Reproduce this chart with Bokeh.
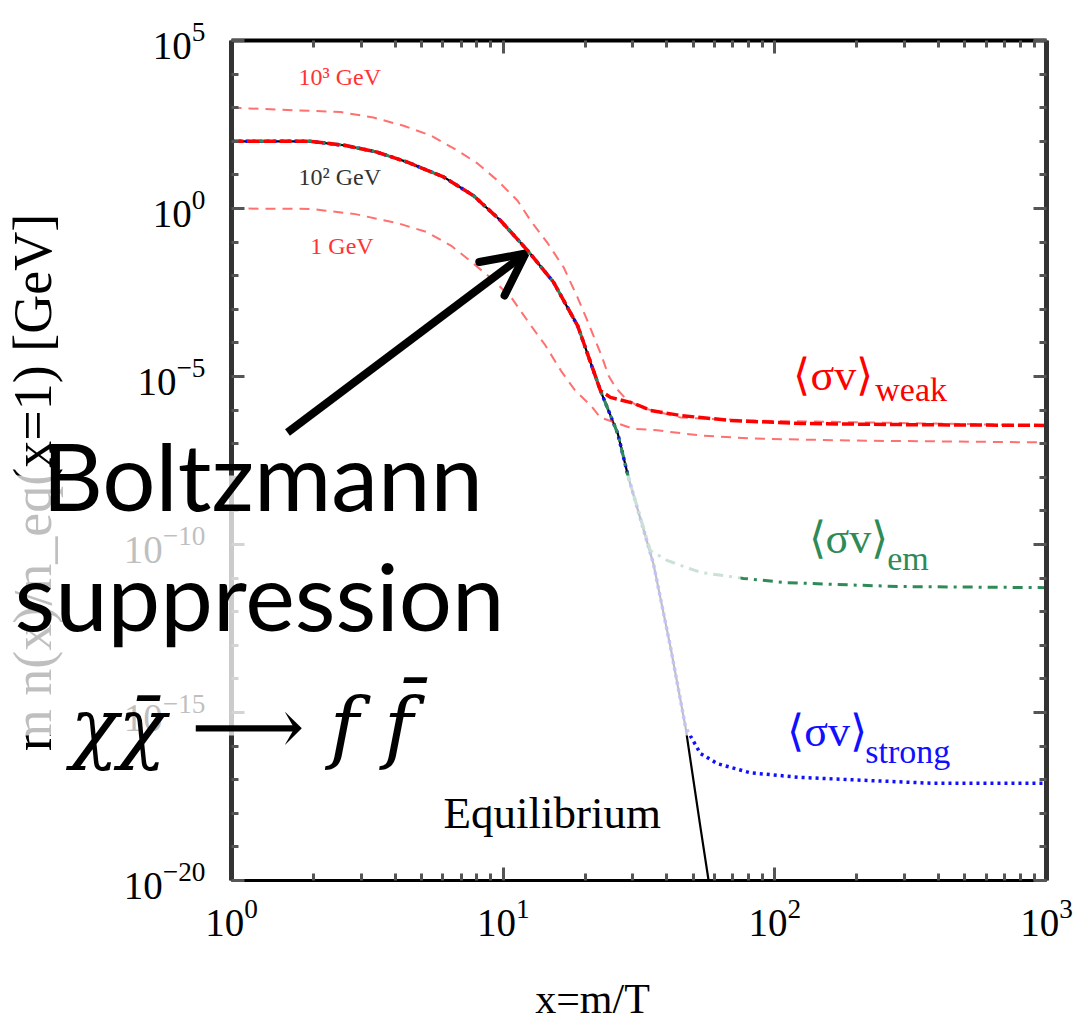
import math
from bokeh.plotting import figure
from bokeh.models import (Range1d, LogAxis, FixedTicker, LogTickFormatter, CustomJSTickFormatter,
                          Label, BoxAnnotation, Arrow, OpenHead, ColumnDataSource)
from bokeh.core.properties import value
from bokeh.embed import file_html
from bokeh.resources import INLINE

# ---------------- data ----------------
x_major = [1, 10, 100, 1000]
x_minor = [2, 3, 4, 5, 6, 7, 8, 9, 20, 30, 40, 50, 60, 70, 80, 90,
           200, 300, 400, 500, 600, 700, 800, 900]
y_major = [1e-20, 1e-15, 1e-10, 1e-5, 1e0, 1e5]
y_minor = [1e-19, 1e-18, 1e-17, 1e-16, 1e-14, 1e-13, 1e-12, 1e-11, 1e-9, 1e-8, 1e-7,
           1e-6, 1e-4, 1e-3, 1e-2, 1e-1, 1e1, 1e2, 1e3, 1e4]
x_lim = (1, 1000)
y_lim = (1e-20, 1e5)

# equilibrium curve (m = 100 GeV)
eq_x = [1.0, 1.95, 2.63, 3.42, 4.44, 6.03, 7.78, 9.77, 12.3, 15.3, 18.8, 22.8,
        26.4, 28.9, 35.7, 41.3, 46.9, 53.2, 57.0]
eq_y = [1.0e2, 1.0e2, 7.5e1, 4.8e1, 2.4e1, 8.7, 2.4, 4.4e-1, 5.6e-2, 6.5e-3, 3.2e-4, 3.8e-6,
        2.0e-7, 9.9e-9, 2.7e-11, 8.6e-14, 3.6e-16, 3.8e-19, 1.0e-20]

# <sigma v>_weak, m = 100 GeV (freeze-out tail after leaving equilibrium at x ~ 23)
weak_tail_x = [24.8, 30.2, 34.8, 45.0, 68.7, 124, 290, 1000]
weak_tail_y = [2.4e-6, 1.6e-6, 9.8e-7, 6.9e-7, 4.9e-7, 4.0e-7, 3.7e-7, 3.5e-7]

# <sigma v>_weak, m = 1000 GeV
hi_x = [1.0, 2.52, 3.33, 4.30, 5.40, 6.79, 8.04, 9.53, 11.3, 12.6, 14.6, 16.7, 18.8,
        20.4, 23.0, 24.4, 25.9, 28.2, 32.0, 45.0, 81.3, 1000]
hi_y = [1.0e3, 7.4e2, 5.1e2, 2.9e2, 1.5e2, 5.3e1, 2.2e1, 6.8, 1.7, 4.4e-1, 9.1e-2, 1.75e-2,
        2.2e-3, 4.6e-4, 4.2e-5, 1.07e-5, 4.7e-6, 2.2e-6, 1.2e-6, 6.0e-7, 4.9e-7, 3.5e-7]

# <sigma v>_weak, m = 1 GeV
lo_x = [1.0, 2.0, 2.22, 2.86, 3.44, 4.07, 5.25, 6.49, 7.79, 9.23, 10.8, 12.4, 14.3, 16.3,
        18.4, 21.0, 22.8, 30.1, 36.9, 53.3, 81.3, 190, 1000]
lo_y = [1.0, 0.97, 0.86, 0.68, 0.49, 0.37, 0.197, 0.074, 2.26e-2, 7.2e-3, 2.05e-3, 4.1e-4,
        8.4e-5, 1.5e-5, 3.8e-6, 1.37e-6, 6.0e-7, 2.8e-7, 2.5e-7, 1.75e-7, 1.43e-7, 1.24e-7,
        1.09e-7]

# <sigma v>_em (leaves equilibrium at x ~ 35)
em_tail_x = [34.8, 40.3, 53.2, 76.6, 108, 164, 290, 1000]
em_tail_y = [6.6e-11, 3.3e-11, 1.48e-11, 9.8e-12, 7.4e-12, 6.5e-12, 5.6e-12, 5.2e-12]

# <sigma v>_strong (leaves equilibrium at x ~ 47)
strong_tail_x = [53.2, 61.5, 81.3, 124, 219, 384, 1000]
strong_tail_y = [6.0e-17, 3.0e-17, 1.6e-17, 1.17e-17, 9.5e-18, 7.8e-18, 7.8e-18]

# number of equilibrium points each curve shares before freezing out
n_weak, n_em, n_strong = 12, 14, 17

weak_x = eq_x[:n_weak] + weak_tail_x
weak_y = eq_y[:n_weak] + weak_tail_y
em_x = eq_x[:n_em] + em_tail_x
em_y = eq_y[:n_em] + em_tail_y
strong_x = eq_x[:n_strong] + strong_tail_x
strong_y = eq_y[:n_strong] + strong_tail_y

# ---------------- figure ----------------
# The frame fills the whole canvas so that the big overlay texts may cross the
# axes, as in the reference; all four axes are pinned with fixed_location and
# limited with bounds to the 1..1000 x 1e-20..1e5 box.
SERIF = "Liberation Serif"
W, H = 1078, 1025
view_x = (0.1412, 1310)
view_y = (4.84e-25, 1.55e6)

p = figure(width=W, height=H, x_axis_type="log", y_axis_type="log",
           x_range=Range1d(*view_x), y_range=Range1d(*view_y),
           output_backend="svg", toolbar_location=None,
           min_border_left=0, min_border_right=0, min_border_top=0, min_border_bottom=0)
p.background_fill_color = "white"
p.border_fill_color = "white"
p.grid.visible = False
p.outline_line_color = None


def style_axis(ax, ticks, minor, labels=True):
    ax.ticker = FixedTicker(ticks=ticks, minor_ticks=minor)
    ax.major_tick_in = 13
    ax.major_tick_out = 0
    ax.minor_tick_in = 7
    ax.minor_tick_out = 0
    ax.major_tick_line_color = "#555555"
    ax.minor_tick_line_color = "#555555"
    ax.major_tick_line_width = 3
    ax.minor_tick_line_width = 3
    if labels:
        ax.formatter = LogTickFormatter()
        ax.major_label_text_font = SERIF
        ax.major_label_text_font_size = "39px"
        ax.major_label_text_color = "black"
    else:
        ax.formatter = CustomJSTickFormatter(code="return ''")
        ax.major_label_text_font_size = "1px"
        ax.major_label_standoff = 0


xa = p.xaxis[0]
style_axis(xa, x_major, x_minor)
xa.fixed_location = y_lim[0]
xa.bounds = x_lim
xa.axis_line_color = "black"
xa.axis_line_width = 3
xa.major_label_standoff = 18

ya = p.yaxis[0]
style_axis(ya, y_major, y_minor)
ya.fixed_location = x_lim[0]
ya.bounds = y_lim
ya.axis_line_color = "#333333"
ya.axis_line_width = 5
ya.major_label_standoff = 26

top_ax = LogAxis(bounds=x_lim, fixed_location=y_lim[1])
style_axis(top_ax, x_major, x_minor, labels=False)
top_ax.axis_line_color = "black"
top_ax.axis_line_width = 4
p.add_layout(top_ax, "above")

right_ax = LogAxis(bounds=y_lim, fixed_location=x_lim[1])
style_axis(right_ax, y_major, y_minor, labels=False)
right_ax.axis_line_color = "#333333"
right_ax.axis_line_width = 5
p.add_layout(right_ax, "right")

# ---------------- curves ----------------
p.line(eq_x, eq_y, line_color="black", line_width=2.2)
p.line(strong_x, strong_y, line_color="#1010ff", line_width=3.5, line_dash="3 4")
p.line(em_x, em_y, line_color="#2e8b57", line_width=3, line_dash="10 6 3 6")
p.line(hi_x, hi_y, line_color="#ff3333", line_width=2, line_alpha=0.7, line_dash="10 7")
p.line(lo_x, lo_y, line_color="#ff3333", line_width=2, line_alpha=0.7, line_dash="10 7")
p.line(weak_x, weak_y, line_color="#ff0000", line_width=3.5, line_dash="12 4")

# ---------------- in-plot labels ----------------
mass_src = ColumnDataSource(dict(x=[1.765, 1.765, 1.95], y=[8.15e3, 8.6, 0.076],
                                 text=["10³ GeV", "10² GeV", "1 GeV"],
                                 color=["#ff3333", "#333333", "#ff3333"]))
p.text(x="x", y="y", text="text", text_color="color", source=mass_src,
       text_font=value(SERIF), text_font_size="24px", text_baseline="alphabetic")

sig_src = ColumnDataSource(dict(x=[117, 133, 111], y=[1.10e-5, 1.55e-10, 2.66e-16],
                                text=["⟨σv⟩", "⟨σv⟩", "⟨σv⟩"],
                                color=["#ff0000", "#2e8b57", "#1010ff"]))
p.text(x="x", y="y", text="text", text_color="color", source=sig_src,
       text_font=value(SERIF), text_font_size="44px", text_baseline="alphabetic")

sub_src = ColumnDataSource(dict(x=[234, 259, 215], y=[4.1e-6, 3.8e-11, 6.9e-17],
                                text=["weak", "em", "strong"],
                                color=["#ff0000", "#2e8b57", "#1010ff"]))
p.text(x="x", y="y", text="text", text_color="color", source=sub_src,
       text_font=value(SERIF), text_font_size="34px", text_baseline="alphabetic")

p.text(x=[6.03], y=[1.05e-18], text=["Equilibrium"], text_color="black",
       text_font=value(SERIF), text_font_size="45px", text_baseline="alphabetic")

# ---------------- axis titles (canvas pixels, y measured from the top) ----------------
p.add_layout(Label(x=32, y=482, x_units="canvas", y_units="canvas", angle=math.pi / 2,
                   text="m n(x)/n_eq(x=1) [GeV]", text_align="center",
                   text_baseline="alphabetic", text_font=SERIF, text_font_size="54px",
                   text_color="black"))
p.add_layout(Label(x=592, y=998, x_units="canvas", y_units="canvas", text="x=m/T",
                   text_align="center", text_baseline="alphabetic", text_font=SERIF,
                   text_font_size="42px", text_color="black"))

# ---------------- overlay (faded band, big annotation text, arrow) ----------------
fade = BoxAnnotation(left=0, right=740, top=475, bottom=735,
                     left_units="canvas", right_units="canvas",
                     top_units="canvas", bottom_units="canvas",
                     fill_color="white", fill_alpha=0.75, line_color=None)
p.add_layout(fade)

arrow_tail = (1.607, 2.15e-7)
arrow_tip = (12.08, 0.0458)
p.add_layout(Arrow(end=OpenHead(size=42, line_width=8, line_color="black", line_cap="round"),
                   x_start=arrow_tail[0], y_start=arrow_tail[1],
                   x_end=arrow_tip[0], y_end=arrow_tip[1],
                   line_color="black", line_width=8))

p.add_layout(Label(x=262, y=474, x_units="canvas", y_units="canvas", text="Boltzmann",
                   text_align="center", text_baseline="alphabetic", text_font="Lato",
                   text_font_size="94px", text_color="black"))
p.add_layout(Label(x=259, y=594, x_units="canvas", y_units="canvas", text="suppression",
                   text_align="center", text_baseline="alphabetic", text_font="Lato",
                   text_font_size="94px", text_color="black"))
p.add_layout(Label(x=70, y=726, x_units="canvas", y_units="canvas",
                   text="χχ\u0304 \u27f6 f f\u0304", text_align="left",
                   text_baseline="alphabetic", text_font="DejaVu Serif",
                   text_font_style="italic", text_font_size="79px", text_color="black"))

open("out.html", "w").write(file_html(p, INLINE))
